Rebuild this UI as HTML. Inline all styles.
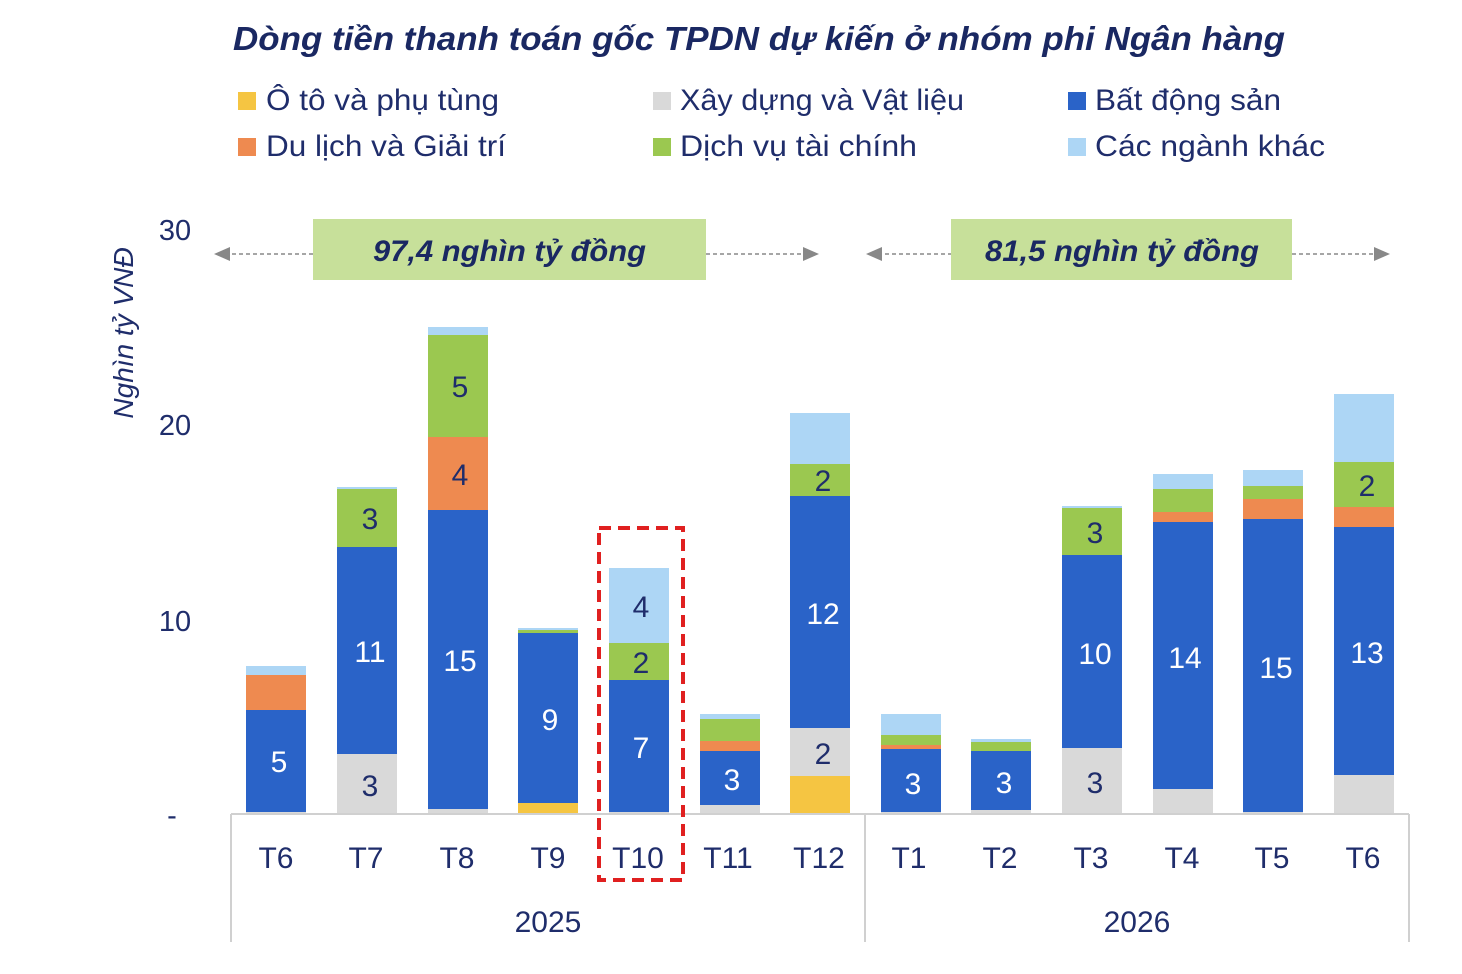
<!DOCTYPE html>
<html><head><meta charset="utf-8"><style>
body{margin:0;background:#fff;}
svg{display:block;font-family:"Liberation Sans","DejaVu Sans",sans-serif;}
</style></head><body>
<svg width="1462" height="974" viewBox="0 0 1462 974" xmlns="http://www.w3.org/2000/svg">
<text x="233" y="50" textLength="1052" lengthAdjust="spacingAndGlyphs" font-size="33" font-weight="bold" font-style="italic" fill="#1A2862">Dòng tiền thanh toán gốc TPDN dự kiến ở nhóm phi Ngân hàng</text>
<g font-size="30" fill="#1F2D6B">
<rect x="238" y="92" width="18" height="18" fill="#F5C542"/><text x="266" y="110" textLength="233" lengthAdjust="spacingAndGlyphs">Ô tô và phụ tùng</text>
<rect x="653" y="92" width="18" height="18" fill="#D9D9D9"/><text x="680" y="110" textLength="284" lengthAdjust="spacingAndGlyphs">Xây dựng và Vật liệu</text>
<rect x="1068" y="92" width="18" height="18" fill="#2A63C8"/><text x="1095" y="110" textLength="186" lengthAdjust="spacingAndGlyphs">Bất động sản</text>
<rect x="238" y="138" width="18" height="18" fill="#EE8A50"/><text x="266" y="156" textLength="240" lengthAdjust="spacingAndGlyphs">Du lịch và Giải trí</text>
<rect x="653" y="138" width="18" height="18" fill="#9BC850"/><text x="680" y="156" textLength="237" lengthAdjust="spacingAndGlyphs">Dịch vụ tài chính</text>
<rect x="1068" y="138" width="18" height="18" fill="#ADD6F5"/><text x="1095" y="156" textLength="230" lengthAdjust="spacingAndGlyphs">Các ngành khác</text>
</g>
<text transform="translate(133,333) rotate(-90)" text-anchor="middle" font-size="28" font-style="italic" fill="#1F2D6B">Nghìn tỷ VNĐ</text>
<g font-size="29" fill="#1F2D6B" text-anchor="middle">
<text x="175" y="240">30</text><text x="175" y="435">20</text><text x="175" y="631">10</text><text x="172" y="825">-</text>
</g>
<g stroke="#888" stroke-width="1.5" stroke-dasharray="4,3" fill="none">
<line x1="225" y1="254" x2="313" y2="254"/><line x1="706" y1="254" x2="808" y2="254"/>
<line x1="878" y1="254" x2="951" y2="254"/><line x1="1292" y1="254" x2="1380" y2="254"/>
</g>
<g fill="#888">
<polygon points="214,254 230,247 230,261"/><polygon points="819,254 803,247 803,261"/>
<polygon points="866,254 882,247 882,261"/><polygon points="1390,254 1374,247 1374,261"/>
</g>
<rect x="313" y="219" width="393" height="61" fill="#C7E09A"/>
<rect x="951" y="219" width="341" height="61" fill="#C7E09A"/>
<g font-size="30" font-weight="bold" font-style="italic" fill="#1A2862">
<text x="373" y="261" textLength="273" lengthAdjust="spacingAndGlyphs">97,4 nghìn tỷ đồng</text><text x="985" y="261" textLength="274" lengthAdjust="spacingAndGlyphs">81,5 nghìn tỷ đồng</text>
</g>
<g id="bars">
<rect x="246" y="812" width="60" height="2" fill="#D9D9D9"/><rect x="246" y="710" width="60" height="102" fill="#2A63C8"/><rect x="246" y="675" width="60" height="35" fill="#EE8A50"/><rect x="246" y="666" width="60" height="9" fill="#ADD6F5"/>
<rect x="337" y="754" width="60" height="60" fill="#D9D9D9"/><rect x="337" y="547" width="60" height="207" fill="#2A63C8"/><rect x="337" y="489" width="60" height="58" fill="#9BC850"/><rect x="337" y="487" width="60" height="2" fill="#ADD6F5"/>
<rect x="428" y="809" width="60" height="5" fill="#D9D9D9"/><rect x="428" y="510" width="60" height="299" fill="#2A63C8"/><rect x="428" y="437" width="60" height="73" fill="#EE8A50"/><rect x="428" y="335" width="60" height="102" fill="#9BC850"/><rect x="428" y="327" width="60" height="8" fill="#ADD6F5"/>
<rect x="518" y="803" width="60" height="11" fill="#F5C542"/><rect x="518" y="633" width="60" height="170" fill="#2A63C8"/><rect x="518" y="630" width="60" height="3" fill="#9BC850"/><rect x="518" y="628" width="60" height="2" fill="#ADD6F5"/>
<rect x="609" y="812" width="60" height="2" fill="#D9D9D9"/><rect x="609" y="680" width="60" height="132" fill="#2A63C8"/><rect x="609" y="643" width="60" height="37" fill="#9BC850"/><rect x="609" y="568" width="60" height="75" fill="#ADD6F5"/>
<rect x="700" y="805" width="60" height="9" fill="#D9D9D9"/><rect x="700" y="751" width="60" height="54" fill="#2A63C8"/><rect x="700" y="741" width="60" height="10" fill="#EE8A50"/><rect x="700" y="719" width="60" height="22" fill="#9BC850"/><rect x="700" y="714" width="60" height="5" fill="#ADD6F5"/>
<rect x="790" y="776" width="60" height="38" fill="#F5C542"/><rect x="790" y="728" width="60" height="48" fill="#D9D9D9"/><rect x="790" y="496" width="60" height="232" fill="#2A63C8"/><rect x="790" y="464" width="60" height="32" fill="#9BC850"/><rect x="790" y="413" width="60" height="51" fill="#ADD6F5"/>
<rect x="881" y="812" width="60" height="2" fill="#D9D9D9"/><rect x="881" y="749" width="60" height="63" fill="#2A63C8"/><rect x="881" y="745" width="60" height="4" fill="#EE8A50"/><rect x="881" y="735" width="60" height="10" fill="#9BC850"/><rect x="881" y="714" width="60" height="21" fill="#ADD6F5"/>
<rect x="971" y="810" width="60" height="4" fill="#D9D9D9"/><rect x="971" y="751" width="60" height="59" fill="#2A63C8"/><rect x="971" y="742" width="60" height="9" fill="#9BC850"/><rect x="971" y="739" width="60" height="3" fill="#ADD6F5"/>
<rect x="1062" y="748" width="60" height="66" fill="#D9D9D9"/><rect x="1062" y="555" width="60" height="193" fill="#2A63C8"/><rect x="1062" y="508" width="60" height="47" fill="#9BC850"/><rect x="1062" y="506" width="60" height="2" fill="#ADD6F5"/>
<rect x="1153" y="789" width="60" height="25" fill="#D9D9D9"/><rect x="1153" y="522" width="60" height="267" fill="#2A63C8"/><rect x="1153" y="512" width="60" height="10" fill="#EE8A50"/><rect x="1153" y="489" width="60" height="23" fill="#9BC850"/><rect x="1153" y="474" width="60" height="15" fill="#ADD6F5"/>
<rect x="1243" y="812" width="60" height="2" fill="#D9D9D9"/><rect x="1243" y="519" width="60" height="293" fill="#2A63C8"/><rect x="1243" y="499" width="60" height="20" fill="#EE8A50"/><rect x="1243" y="486" width="60" height="13" fill="#9BC850"/><rect x="1243" y="470" width="60" height="16" fill="#ADD6F5"/>
<rect x="1334" y="775" width="60" height="39" fill="#D9D9D9"/><rect x="1334" y="527" width="60" height="248" fill="#2A63C8"/><rect x="1334" y="507" width="60" height="20" fill="#EE8A50"/><rect x="1334" y="462" width="60" height="45" fill="#9BC850"/><rect x="1334" y="394" width="60" height="68" fill="#ADD6F5"/>
</g>
<g font-size="30" text-anchor="middle">
<g fill="#fff">
<text x="279" y="772">5</text><text x="370" y="662">11</text><text x="460" y="671">15</text><text x="550" y="730">9</text><text x="641" y="758">7</text><text x="732" y="790">3</text><text x="823" y="624">12</text>
<text x="913" y="794">3</text><text x="1004" y="793">3</text><text x="1095" y="664">10</text><text x="1185" y="668">14</text><text x="1276" y="678">15</text><text x="1367" y="663">13</text>
</g>
<g fill="#1F2D6B">
<text x="370" y="529">3</text><text x="370" y="796">3</text><text x="460" y="485">4</text><text x="460" y="397">5</text><text x="641" y="617">4</text><text x="641" y="673">2</text>
<text x="823" y="764">2</text><text x="823" y="491">2</text><text x="1095" y="793">3</text><text x="1095" y="543">3</text><text x="1367" y="496">2</text>
</g>
</g>
<g stroke="#D0D0D0" stroke-width="2">
<line x1="231" y1="814" x2="1409" y2="814"/>
<line x1="231" y1="814" x2="231" y2="942"/><line x1="865" y1="814" x2="865" y2="942"/><line x1="1409" y1="814" x2="1409" y2="942"/>
</g>
<g font-size="30" fill="#1F2D6B" text-anchor="middle">
<text x="276" y="868">T6</text><text x="366" y="868">T7</text><text x="457" y="868">T8</text><text x="548" y="868">T9</text><text x="638" y="868">T10</text><text x="728" y="868">T11</text><text x="819" y="868">T12</text>
<text x="909" y="868">T1</text><text x="1000" y="868">T2</text><text x="1091" y="868">T3</text><text x="1182" y="868">T4</text><text x="1272" y="868">T5</text><text x="1363" y="868">T6</text>
<text x="548" y="932">2025</text><text x="1137" y="932">2026</text>
</g>
<rect x="599" y="528" width="84" height="352" fill="none" stroke="#E02020" stroke-width="4" stroke-dasharray="12,7"/>
</svg>
</body></html>
